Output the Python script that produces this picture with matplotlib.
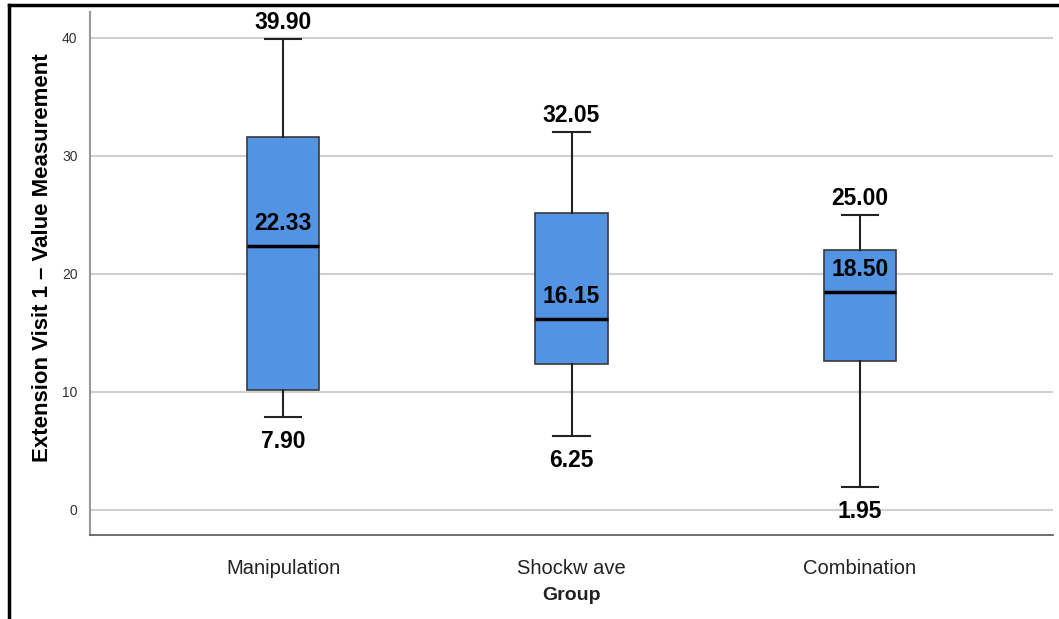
import matplotlib.pyplot as plt
from matplotlib.lines import Line2D

plt.rcParams['font.family'] = ['Liberation Sans', 'DejaVu Sans']

# Five-number summaries per group
groups = ['Manipulation', 'Shockwave', 'Combination']
tick_labels = ['Manipulation', 'Shockw ave', 'Combination']
whisker_low = [7.90, 6.25, 1.95]
q1 = [10.2, 12.35, 12.6]
median = [22.33, 16.15, 18.50]
q3 = [31.6, 25.15, 22.0]
whisker_high = [39.90, 32.05, 25.00]

positions = [1, 2, 3]

fig = plt.figure(figsize=(10.59, 6.19), dpi=100)
ax = fig.add_axes([90 / 1059, 1 - 535 / 619, (1053 - 90) / 1059, (535 - 12) / 619])

stats = []
for i, g in enumerate(groups):
    stats.append(dict(label=g, whislo=whisker_low[i], q1=q1[i], med=median[i],
                      q3=q3[i], whishi=whisker_high[i], fliers=[]))

ax.bxp(stats, positions=positions, widths=0.25, patch_artist=True,
       showfliers=False, capwidths=0.125,
       boxprops=dict(facecolor='#5393e3', edgecolor='#3a3a3a', linewidth=1.2),
       medianprops=dict(color='black', linewidth=2.5),
       whiskerprops=dict(color='#222222', linewidth=1.5),
       capprops=dict(color='#222222', linewidth=1.5))

ax.set_xlim(0.33, 3.67)
ax.set_ylim(-2.12, 42.2)
ax.set_yticks([0, 10, 20, 30, 40])
ax.set_xticks(positions)
ax.set_xticklabels(tick_labels, fontsize=14.5, color='#222222')
ax.tick_params(axis='y', length=0, labelsize=10, pad=9, labelcolor='#333333')
ax.tick_params(axis='x', length=0, pad=17)
ax.yaxis.grid(True, color='#d0d0d0', linewidth=1.5)
ax.set_axisbelow(True)

for s in ['top', 'right']:
    ax.spines[s].set_visible(False)
ax.spines['left'].set_color('#999999')
ax.spines['left'].set_linewidth(1.5)
ax.spines['bottom'].set_color('#555555')
ax.spines['bottom'].set_linewidth(1.2)

ax.set_ylabel('Extension Visit 1 \u2013 Value Measurement', fontsize=16,
              fontweight='bold')
ax.yaxis.set_label_coords(-0.038, 0.53)
ax.set_xlabel('Group', fontsize=14, fontweight='bold', labelpad=7,
              color='#222222')

# Value labels for max, median and min
lab = dict(fontsize=16.5, fontweight='bold', ha='center',
           textcoords='offset pixels')
for i, x in enumerate(positions):
    ax.annotate(f'{whisker_high[i]:.2f}', (x, whisker_high[i]), xytext=(0, 5),
                va='bottom', **lab)
    ax.annotate(f'{median[i]:.2f}', (x, median[i]), xytext=(0, 11),
                va='bottom', **lab)
    ax.annotate(f'{whisker_low[i]:.2f}', (x, whisker_low[i]), xytext=(0, -13),
                va='top', **lab)

# Outer frame (top and left edges)
fig.add_artist(Line2D([9 / 1059, 1], [1 - 5 / 619, 1 - 5 / 619],
                      transform=fig.transFigure, color='black', linewidth=2.5))
fig.add_artist(Line2D([9 / 1059, 9 / 1059], [0, 1 - 5 / 619],
                      transform=fig.transFigure, color='black', linewidth=2.5))

fig.savefig('out.png', dpi=100)
